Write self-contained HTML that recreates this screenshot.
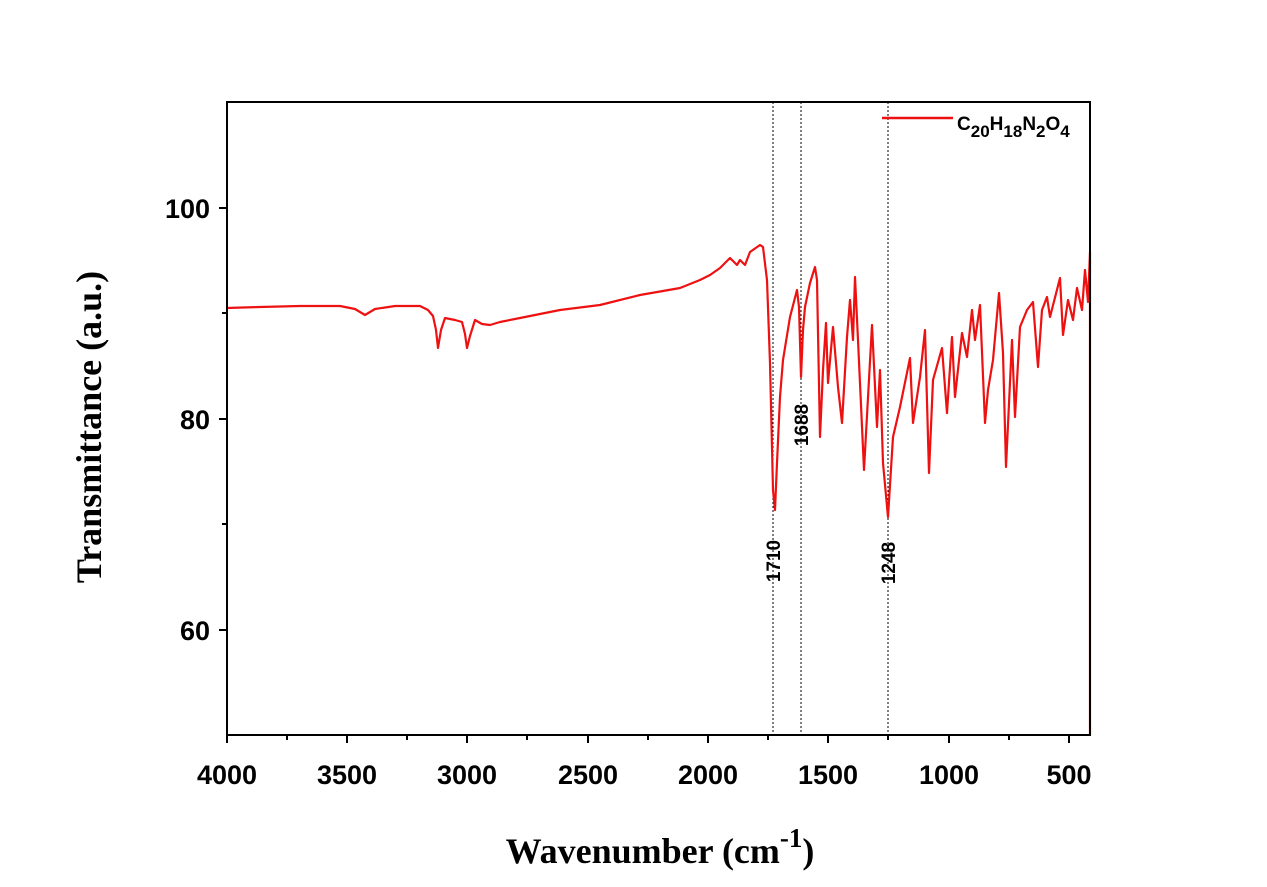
<!DOCTYPE html>
<html><head><style>body{margin:0;background:#fff}</style></head><body>
<svg width="1267" height="882" xmlns="http://www.w3.org/2000/svg">
<rect width="1267" height="882" fill="#fff"/>
<g stroke="#000" stroke-width="1" stroke-dasharray="2,2">
<line x1="773" y1="102" x2="773" y2="735"/><line x1="801" y1="102" x2="801" y2="735"/><line x1="888" y1="102" x2="888" y2="735"/>
</g>
<polyline fill="none" stroke="#ee1111" stroke-width="2.2" stroke-linejoin="round" points="227,308 260,307 300,306 340,306 355,309 365,315 375,309 395,306 420,306 428,310 433,316 436,330 438,348 441,330 445,318 455,320 462,322 465,334 467,348 470,336 475,320 482,324 490,325 500,322 520,318 560,310 600,305 640,295 680,288 700,280 710,275 720,268 730,258 737,265 740,260 745,265 750,252 760,245 763,247 767,280 770,363 773,490 775,510 777,463 780,397 783,360 790,317 797,290 799,307 801,377 803,330 805,307 810,283 815,267 817,280 820,437 823,370 826,323 828,383 833,327 838,387 842,423 847,337 850,300 853,340 855,277 858,340 864,470 872,325 877,427 880,370 883,463 888,517 893,437 900,407 910,358 913,423 920,377 925,330 929,473 933,380 942,348 947,413 952,337 955,397 962,333 967,357 972,310 975,340 980,305 985,423 988,390 993,360 999,293 1003,353 1006,467 1012,340 1015,417 1020,327 1027,310 1033,302 1038,367 1042,310 1047,297 1050,317 1060,278 1063,335 1068,300 1073,320 1077,288 1082,310 1085,270 1088,302 1090,252 1090,735"/>
<rect x="227" y="102" width="863" height="633" fill="none" stroke="#000" stroke-width="2"/>
<g stroke="#000" stroke-width="2">
<line x1="227" y1="208" x2="219" y2="208"/><line x1="227" y1="419" x2="219" y2="419"/><line x1="227" y1="630" x2="219" y2="630"/>
<line x1="227" y1="313" x2="222" y2="313"/><line x1="227" y1="524" x2="222" y2="524"/>
<line x1="227" y1="735" x2="227" y2="743"/><line x1="347" y1="735" x2="347" y2="743"/><line x1="467" y1="735" x2="467" y2="743"/><line x1="588" y1="735" x2="588" y2="743"/><line x1="708" y1="735" x2="708" y2="743"/><line x1="828" y1="735" x2="828" y2="743"/><line x1="949" y1="735" x2="949" y2="743"/><line x1="1069" y1="735" x2="1069" y2="743"/>
<line x1="287" y1="735" x2="287" y2="740"/><line x1="407" y1="735" x2="407" y2="740"/><line x1="527" y1="735" x2="527" y2="740"/><line x1="648" y1="735" x2="648" y2="740"/><line x1="768" y1="735" x2="768" y2="740"/><line x1="888" y1="735" x2="888" y2="740"/><line x1="1009" y1="735" x2="1009" y2="740"/>
</g>
<g font-family="Liberation Sans, sans-serif" font-weight="bold" font-size="27" fill="#000">
<text x="210" y="218" text-anchor="end">100</text><text x="210" y="429" text-anchor="end">80</text><text x="210" y="640" text-anchor="end">60</text>
<g text-anchor="middle">
<text x="227" y="784">4000</text><text x="347" y="784">3500</text><text x="467" y="784">3000</text><text x="588" y="784">2500</text><text x="708" y="784">2000</text><text x="828" y="784">1500</text><text x="949" y="784">1000</text><text x="1069" y="784">500</text>
</g></g>
<g font-family="Liberation Serif, serif" font-weight="bold" font-size="36" fill="#000">
<text x="660" y="863" text-anchor="middle">Wavenumber (cm<tspan dy="-16" font-size="27">-1</tspan><tspan dy="16">)</tspan></text>
<text transform="translate(101,427) rotate(-90)" text-anchor="middle">Transmittance (a.u.)</text>
</g>
<g font-family="Liberation Sans, sans-serif" font-weight="bold" font-size="19" fill="#000" text-anchor="middle">
<text transform="translate(780,561) rotate(-90)">1710</text>
<text transform="translate(808,425) rotate(-90)">1688</text>
<text transform="translate(895,563) rotate(-90)">1248</text>
</g>
<line x1="882" y1="118" x2="953" y2="118" stroke="#ee1111" stroke-width="2.5"/>
<text x="957" y="130" font-family="Liberation Sans, sans-serif" font-weight="bold" font-size="19">C<tspan dy="7" font-size="17">20</tspan><tspan dy="-7">H</tspan><tspan dy="7" font-size="17">18</tspan><tspan dy="-7">N</tspan><tspan dy="7" font-size="17">2</tspan><tspan dy="-7">O</tspan><tspan dy="7" font-size="17">4</tspan></text>
</svg>
</body></html>
